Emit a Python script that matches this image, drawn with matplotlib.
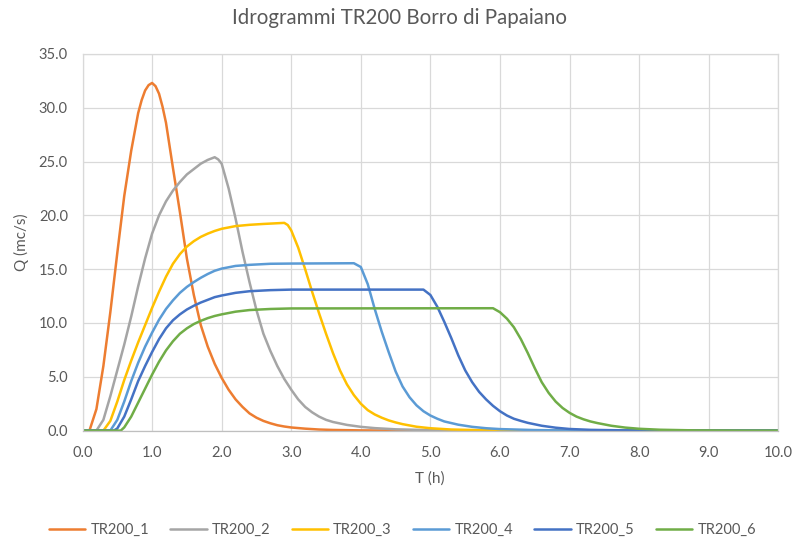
import matplotlib
matplotlib.use("Agg")
import matplotlib.pyplot as plt
from matplotlib.ticker import FormatStrFormatter

# Hydrographs TR200 — time (h) and discharge (mc/s) for each series
t1 = [0.0, 0.1, 0.2, 0.3, 0.4, 0.5, 0.6, 0.7, 0.8, 0.85, 0.9, 0.95, 1.0, 1.05, 1.1,
      1.15, 1.2, 1.3, 1.4, 1.5, 1.6, 1.7, 1.8, 1.9, 2.0, 2.1, 2.2, 2.3, 2.4, 2.5,
      2.6, 2.7, 2.8, 2.9, 3.0, 3.2, 3.4, 3.6, 4.0, 4.5, 10.0]
q1 = [0.0, 0.0, 2.0, 6.0, 11.0, 16.5, 21.8, 26.0, 29.5, 30.7, 31.6, 32.1, 32.3, 32.0, 31.3,
      30.1, 28.6, 24.4, 20.3, 16.0, 12.6, 9.8, 7.8, 6.2, 4.9, 3.8, 2.9, 2.2, 1.6, 1.2,
      0.9, 0.68, 0.5, 0.38, 0.29, 0.18, 0.1, 0.06, 0.02, 0.0, 0.0]

t2 = [0.0, 0.2, 0.3, 0.4, 0.5, 0.6, 0.7, 0.8, 0.9, 1.0, 1.1, 1.2, 1.3, 1.4, 1.5,
      1.6, 1.7, 1.8, 1.9, 1.95, 2.0, 2.1, 2.2, 2.3, 2.4, 2.5, 2.6, 2.7, 2.8, 2.9,
      3.0, 3.1, 3.2, 3.3, 3.4, 3.5, 3.6, 3.8, 4.0, 4.2, 4.5, 5.0, 5.5, 10.0]
q2 = [0.0, 0.0, 1.0, 3.2, 5.6, 8.0, 10.6, 13.4, 16.0, 18.3, 20.0, 21.3, 22.3, 23.1, 23.8,
      24.3, 24.8, 25.15, 25.4, 25.2, 24.8, 22.5, 19.7, 16.6, 13.8, 11.2, 9.0, 7.4, 6.0, 4.8,
      3.8, 2.9, 2.2, 1.7, 1.3, 1.0, 0.8, 0.53, 0.35, 0.23, 0.12, 0.04, 0.0, 0.0]

t3 = [0.0, 0.3, 0.4, 0.5, 0.6, 0.7, 0.8, 0.9, 1.0, 1.1, 1.2, 1.3, 1.4, 1.5, 1.6,
      1.7, 1.8, 1.9, 2.0, 2.2, 2.4, 2.6, 2.9, 2.95, 3.0, 3.1, 3.2, 3.3, 3.4, 3.5,
      3.6, 3.7, 3.8, 3.9, 4.0, 4.1, 4.2, 4.3, 4.4, 4.5, 4.6, 4.8, 5.0, 5.3, 5.8,
      6.5, 10.0]
q3 = [0.0, 0.0, 0.9, 2.7, 4.7, 6.5, 8.2, 9.8, 11.4, 12.9, 14.3, 15.5, 16.4, 17.1, 17.6,
      18.0, 18.3, 18.55, 18.75, 19.0, 19.12, 19.2, 19.3, 19.1, 18.6, 17.0, 15.0, 12.9, 10.9, 9.0,
      7.2, 5.6, 4.3, 3.3, 2.5, 1.9, 1.5, 1.2, 0.95, 0.76, 0.6, 0.36, 0.22, 0.1, 0.03,
      0.0, 0.0]

t4 = [0.0, 0.4, 0.5, 0.6, 0.7, 0.8, 0.9, 1.0, 1.1, 1.2, 1.3, 1.4, 1.5, 1.6, 1.7,
      1.8, 1.9, 2.0, 2.2, 2.4, 2.7, 3.0, 3.9, 4.0, 4.1, 4.2, 4.3, 4.4, 4.5, 4.6,
      4.7, 4.8, 4.9, 5.0, 5.1, 5.2, 5.4, 5.6, 5.8, 6.0, 6.5, 7.0, 7.5, 10.0]
q4 = [0.0, 0.0, 1.0, 2.7, 4.6, 6.3, 7.8, 9.1, 10.3, 11.3, 12.1, 12.8, 13.35, 13.8, 14.2,
      14.55, 14.85, 15.05, 15.3, 15.4, 15.5, 15.52, 15.55, 15.2, 13.6, 11.3, 9.2, 7.3, 5.5, 4.1,
      3.1, 2.35, 1.8, 1.4, 1.1, 0.85, 0.55, 0.35, 0.22, 0.14, 0.05, 0.01, 0.0, 0.0]

t5 = [0.0, 0.45, 0.5, 0.6, 0.7, 0.8, 0.9, 1.0, 1.1, 1.2, 1.3, 1.4, 1.5, 1.6, 1.7,
      1.8, 1.9, 2.0, 2.2, 2.4, 2.7, 3.0, 4.9, 5.0, 5.1, 5.2, 5.3, 5.4, 5.5, 5.6,
      5.7, 5.8, 5.9, 6.0, 6.1, 6.2, 6.3, 6.4, 6.6, 6.8, 7.0, 7.3, 7.8, 8.5, 10.0]
q5 = [0.0, 0.0, 0.2, 1.3, 2.9, 4.6, 6.0, 7.3, 8.5, 9.5, 10.25, 10.8, 11.25, 11.6, 11.9,
      12.15, 12.4, 12.55, 12.8, 12.95, 13.05, 13.1, 13.1, 12.6, 11.5, 10.1, 8.6, 7.0, 5.6, 4.5,
      3.6, 2.9, 2.3, 1.8, 1.4, 1.1, 0.9, 0.72, 0.45, 0.27, 0.15, 0.07, 0.02, 0.0, 0.0]

t6 = [0.0, 0.55, 0.6, 0.7, 0.8, 0.9, 1.0, 1.1, 1.2, 1.3, 1.4, 1.5, 1.6, 1.7, 1.8,
      1.9, 2.0, 2.2, 2.4, 2.7, 3.0, 5.9, 6.0, 6.1, 6.2, 6.3, 6.4, 6.5, 6.6, 6.7,
      6.8, 6.9, 7.0, 7.1, 7.2, 7.3, 7.4, 7.6, 7.8, 8.0, 8.3, 8.8, 9.5, 10.0]
q6 = [0.0, 0.0, 0.3, 1.3, 2.6, 3.9, 5.2, 6.4, 7.45, 8.3, 9.0, 9.5, 9.9, 10.2, 10.45,
      10.65, 10.8, 11.05, 11.2, 11.3, 11.35, 11.37, 11.0, 10.4, 9.6, 8.5, 7.2, 5.8, 4.5, 3.5,
      2.7, 2.1, 1.65, 1.3, 1.05, 0.85, 0.7, 0.45, 0.28, 0.17, 0.08, 0.02, 0.0, 0.0]

series_names = ["TR200_1", "TR200_2", "TR200_3", "TR200_4", "TR200_5", "TR200_6"]
series_colors = ["#ED7D31", "#A5A5A5", "#FFC000", "#5B9BD5", "#4472C4", "#70AD47"]
times = [t1, t2, t3, t4, t5, t6]
flows = [q1, q2, q3, q4, q5, q6]

x_ticks = [0, 1, 2, 3, 4, 5, 6, 7, 8, 9, 10]
y_ticks = [0, 5, 10, 15, 20, 25, 30, 35]

plt.rcParams["font.family"] = ["Lato", "DejaVu Sans"]
text_color = "#595959"
grid_color = "#D9D9D9"

fig = plt.figure(figsize=(7.98, 5.41), dpi=100)
ax = fig.add_axes([82.5 / 798, 1 - 430.6 / 541, (778.3 - 82.5) / 798, (430.6 - 53.9) / 541])

for t, q, name, color in zip(times, flows, series_names, series_colors):
    ax.plot(t, q, color=color, lw=1.8, label=name, solid_joinstyle="round",
            solid_capstyle="round")

ax.set_xlim(0, 10)
ax.set_ylim(0, 35)
ax.set_xticks(x_ticks)
ax.set_yticks(y_ticks)
ax.xaxis.set_major_formatter(FormatStrFormatter("%.1f"))
ax.yaxis.set_major_formatter(FormatStrFormatter("%.1f"))
ax.grid(True, color=grid_color, lw=0.9)
ax.set_axisbelow(True)
for side in ["top", "right", "left"]:
    ax.spines[side].set_color(grid_color)
    ax.spines[side].set_linewidth(0.9)
ax.spines["bottom"].set_color("#BFBFBF")
ax.spines["bottom"].set_linewidth(0.9)
ax.tick_params(axis="both", length=0, labelsize=10.5, labelcolor=text_color)
ax.tick_params(axis="y", pad=10.5)
ax.tick_params(axis="x", pad=11)

fig.text(430 / 798, 1 - 479 / 541, "T (h)", ha="center", va="center",
         fontsize=11, color=text_color)
fig.text(21 / 798, 1 - 242 / 541, "Q (mc/s)", ha="center", va="center",
         rotation=90, fontsize=11, color=text_color)
fig.text(400 / 798, 1 - 18 / 541, "Idrogrammi TR200 Borro di Papaiano",
         ha="center", va="center", fontsize=14.8, color=text_color)

fig.legend(loc="center", bbox_to_anchor=(402.5 / 798, 1 - 530 / 541), ncol=6,
           frameon=False, fontsize=10.5, labelcolor=text_color, handlelength=2.5,
           handletextpad=0.35, columnspacing=1.45)

fig.savefig("out.png", dpi=100, facecolor="white")
